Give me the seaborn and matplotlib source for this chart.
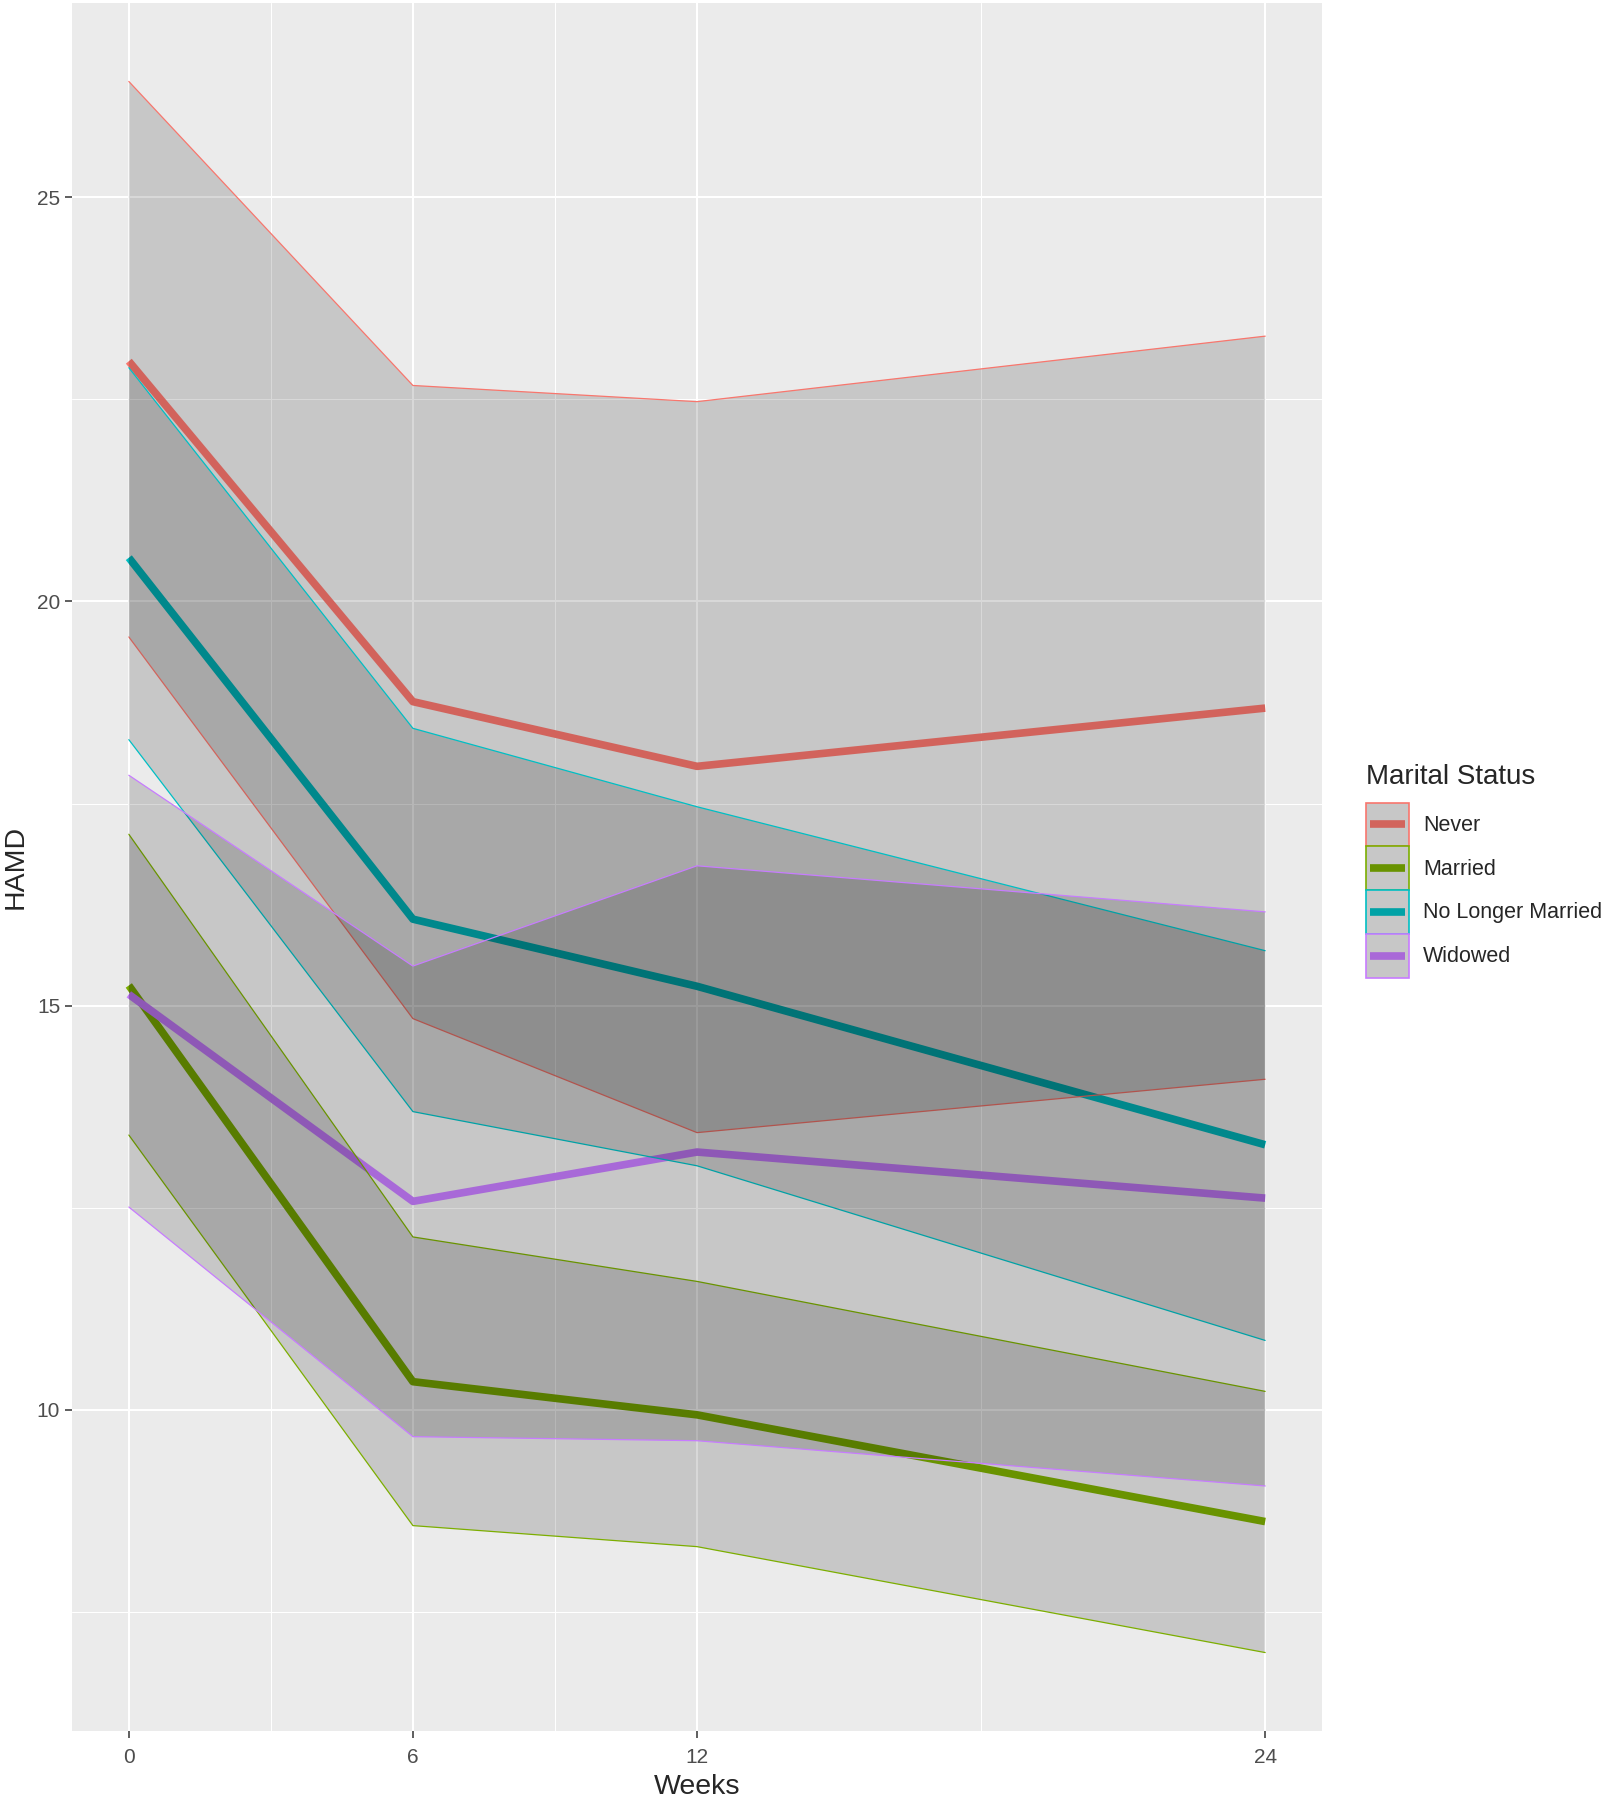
import numpy as np
import pandas as pd
import matplotlib
matplotlib.use("Agg")
import matplotlib.pyplot as plt
from matplotlib.patches import Patch, Rectangle
from matplotlib.lines import Line2D
from matplotlib.legend_handler import HandlerBase
import seaborn as sns

# data
weeks = [0, 6, 12, 24]
groups = ["Never", "Married", "No Longer Married", "Widowed"]
colors = ["#F8766D", "#7CAE00", "#00BFC4", "#C77CFF"]

never_mean = [22.97, 18.76, 17.96, 18.68]
never_hi = [26.43, 22.67, 22.47, 23.28]
never_lo = [19.56, 14.84, 13.43, 14.09]

married_mean = [15.25, 10.35, 9.94, 8.62]
married_hi = [17.12, 12.14, 11.59, 10.23]
married_lo = [13.40, 8.57, 8.31, 7.00]

nlm_mean = [20.54, 16.07, 15.24, 13.28]
nlm_hi = [22.89, 18.43, 17.46, 15.68]
nlm_lo = [18.29, 13.69, 13.02, 10.86]

widowed_mean = [15.14, 12.58, 13.19, 12.62]
widowed_hi = [17.85, 15.49, 16.73, 16.16]
widowed_lo = [12.51, 9.67, 9.62, 9.06]

means = [never_mean, married_mean, nlm_mean, widowed_mean]
his = [never_hi, married_hi, nlm_hi, widowed_hi]
los = [never_lo, married_lo, nlm_lo, widowed_lo]

df = pd.DataFrame({
    "Weeks": weeks * 4,
    "HAMD": sum(means, []),
    "lo": sum(los, []),
    "hi": sum(his, []),
    "status": [g for g in groups for _ in weeks],
})

sns.set_theme(style="darkgrid")
plt.rcParams["font.family"] = ["Liberation Sans", "DejaVu Sans"]

fig = plt.figure(figsize=(16.08, 18), dpi=100)
ax = fig.add_axes([72 / 1608, 1 - 1731 / 1800, 1250 / 1608, 1728 / 1800])
ax.set_facecolor("#EBEBEB")

# lines first, ribbons over them (as in the original)
sns.lineplot(data=df, x="Weeks", y="HAMD", hue="status", hue_order=groups,
             palette=colors, linewidth=5.5, legend=False, ax=ax, zorder=2,
             solid_capstyle="butt")

ribbon_fill = (0, 0, 0, 0.153)
for g, c in zip(groups, colors):
    sub = df[df["status"] == g]
    ax.fill_between(sub["Weeks"], sub["lo"], sub["hi"], facecolor=ribbon_fill,
                    edgecolor="none", zorder=3)
    ax.plot(sub["Weeks"], sub["hi"], color=c, lw=0.9, zorder=3)
    ax.plot(sub["Weeks"], sub["lo"], color=c, lw=0.9, zorder=3)

ax.set_xlim(-1.2, 25.2)
ax.set_ylim(6.03, 27.40)
ax.set_xticks(weeks)
ax.set_yticks([10, 15, 20, 25])
ax.set_xticks([3, 9, 18], minor=True)
ax.set_yticks([7.5, 12.5, 17.5, 22.5], minor=True)
ax.grid(which="major", color="white", lw=1.5)
ax.grid(which="minor", color="white", lw=0.75)
ax.set_axisbelow(True)
for s in ax.spines.values():
    s.set_visible(False)
ax.tick_params(which="major", length=5, width=1.1, color="#333333",
               labelsize=15, labelcolor="#4D4D4D", bottom=True, left=True)
ax.tick_params(axis="x", which="major", pad=7)
ax.tick_params(which="minor", length=0)
ax.set_xlabel("Weeks", fontsize=20.5, labelpad=5)
ax.set_ylabel("HAMD", fontsize=20.5, labelpad=6)


def darken(c, f=0.847):
    r, g, b = matplotlib.colors.to_rgb(c)
    return (r * f, g * f, b * f)


class KeyHandler(HandlerBase):
    # grey ribbon key with coloured border, darkened line in the middle
    def create_artists(self, legend, orig_handle, xdescent, ydescent,
                       width, height, fontsize, trans):
        c = orig_handle.get_edgecolor()
        rect = Rectangle((-xdescent, -ydescent), width, height,
                         facecolor="#C7C7C7", edgecolor=c, lw=1.2,
                         transform=trans)
        cy = -ydescent + height / 2
        line = Line2D([-xdescent + 0.1 * width, -xdescent + 0.9 * width],
                      [cy, cy], color=darken(c[:3]), lw=5.5,
                      solid_capstyle="butt", transform=trans)
        return [rect, line]


handles = [Patch(facecolor="#C7C7C7", edgecolor=c) for c in colors]
leg = fig.legend(handles, groups, title="Marital Status", loc="upper left",
                 bbox_to_anchor=(1366 / 1608, 1 - 764 / 1800), frameon=False,
                 fontsize=15.5, title_fontsize=20, handlelength=2.0,
                 handleheight=2.75, labelspacing=0, handletextpad=0.65,
                 borderpad=0, borderaxespad=0,
                 handler_map={Patch: KeyHandler()})
leg._legend_box.align = "left"
leg._legend_box.sep = 9

fig.savefig("out.png", dpi=100)
